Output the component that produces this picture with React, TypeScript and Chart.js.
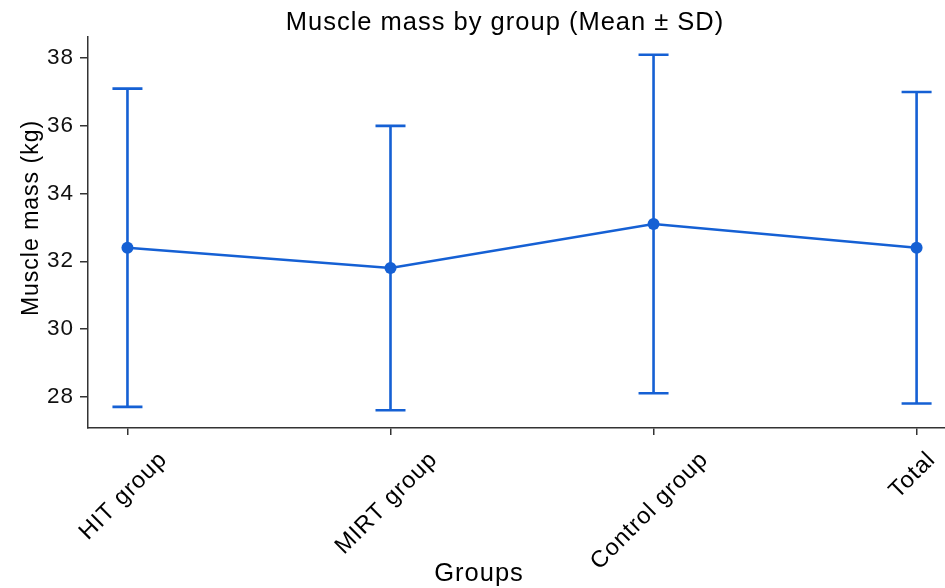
import { useEffect, useRef } from 'react';
import { Chart, registerables } from 'chart.js';

Chart.register(...registerables);

// ---- data ----
const categories = ['HIT group', 'MIRT group', 'Control group', 'Total'];
const means = [32.4, 31.8, 33.1, 32.4];
const sds = [4.7, 4.2, 5.0, 4.6];
const yTicks = [28, 30, 32, 34, 36, 38];
const titleText = 'Muscle mass by group (Mean ± SD)';
const xTitle = 'Groups';
const yTitle = 'Muscle mass (kg)';

// ---- style ----
const BLUE = '#1560d4';
const AXIS = '#333333';
const TEXT = '#000000';
const FONT = "'Liberation Sans', Arial, sans-serif";
const SPACING = '1px';

const lows = means.map((m, i) => m - sds[i]);
const highs = means.map((m, i) => m + sds[i]);
const dataMin = Math.min(...lows);
const dataMax = Math.max(...highs);
const span = dataMax - dataMin;
const yMin = dataMin - 0.05 * span;
const yMax = dataMax + 0.05 * span;

const errorBarPlugin = {
  id: 'errorBars',
  beforeDatasetsDraw(chart: any) {
    const { ctx, scales } = chart;
    const x = scales.x;
    const y = scales.y;
    ctx.save();
    ctx.strokeStyle = BLUE;
    ctx.lineWidth = 2.6;
    ctx.lineCap = 'butt';
    means.forEach((_, i) => {
      const px = x.getPixelForValue(i);
      const top = y.getPixelForValue(highs[i]);
      const bot = y.getPixelForValue(lows[i]);
      ctx.beginPath();
      ctx.moveTo(px, top);
      ctx.lineTo(px, bot);
      ctx.moveTo(px - 15, top);
      ctx.lineTo(px + 15, top);
      ctx.moveTo(px - 15, bot);
      ctx.lineTo(px + 15, bot);
      ctx.stroke();
    });
    ctx.restore();
  },
};

const textPlugin = {
  id: 'texts',
  beforeDraw(chart: any) {
    chart.ctx.letterSpacing = SPACING;
  },
  afterDraw(chart: any) {
    const { ctx, scales } = chart;
    const x = scales.x;
    ctx.save();
    ctx.letterSpacing = SPACING;
    ctx.fillStyle = TEXT;

    // title
    ctx.font = `25.5px ${FONT}`;
    ctx.textAlign = 'center';
    ctx.textBaseline = 'alphabetic';
    ctx.fillText(titleText, 505, 30);

    // x title
    ctx.font = `25.5px ${FONT}`;
    ctx.fillText(xTitle, 479, 581);

    // y title
    ctx.save();
    ctx.font = `23px ${FONT}`;
    ctx.translate(38, 218);
    ctx.rotate(-Math.PI / 2);
    ctx.textAlign = 'center';
    ctx.textBaseline = 'alphabetic';
    ctx.fillText(yTitle, 0, 0);
    ctx.restore();

    // x tick labels, rotated 45°, bounding box centred under each tick
    ctx.font = `23.5px ${FONT}`;
    categories.forEach((label, i) => {
      const px = x.getPixelForValue(i);
      const L = ctx.measureText(label).width;
      const ax = px - 4 + 0.354 * L;
      const ay = 456;
      ctx.save();
      ctx.translate(ax, ay);
      ctx.rotate(-Math.PI / 4);
      ctx.textAlign = 'right';
      ctx.textBaseline = 'middle';
      ctx.fillText(label, 0, 0);
      ctx.restore();
    });
    ctx.restore();
  },
};

export default function App() {
  const ref = useRef<HTMLCanvasElement>(null);

  useEffect(() => {
    const canvas = ref.current;
    if (!canvas) return;
    const chart = new Chart(canvas, {
      type: 'line',
      data: {
        datasets: [
          {
            data: means.map((m, i) => ({ x: i, y: m })),
            borderColor: BLUE,
            backgroundColor: BLUE,
            borderWidth: 2.6,
            pointRadius: 6,
            pointBorderWidth: 0,
            pointBackgroundColor: BLUE,
            tension: 0,
          },
        ],
      },
      options: {
        animation: false,
        responsive: false,
        devicePixelRatio: 1,
        layout: { autoPadding: false, padding: { top: 37, left: 0, right: 0, bottom: 0 } },
        plugins: {
          legend: { display: false },
          tooltip: { enabled: false },
          title: { display: false },
        },
        scales: {
          x: {
            type: 'linear',
            min: -0.15,
            max: 3.108,
            afterBuildTicks: (s: any) => {
              s.ticks = categories.map((_, i) => ({ value: i }));
            },
            afterFit: (s: any) => {
              s.height = 160;
            },
            ticks: { display: false },
            grid: {
              display: true,
              drawOnChartArea: false,
              drawTicks: true,
              tickLength: 7,
              tickColor: AXIS,
              lineWidth: 1.5,
            },
            border: { display: true, color: AXIS, width: 1.5 },
          },
          y: {
            type: 'linear',
            min: yMin,
            max: yMax,
            afterBuildTicks: (s: any) => {
              s.ticks = yTicks.map((v) => ({ value: v }));
            },
            afterFit: (s: any) => {
              s.width = 88;
            },
            ticks: {
              font: { family: FONT, size: 22.5 },
              color: '#111111',
              padding: 6,
            },
            grid: {
              display: true,
              drawOnChartArea: false,
              drawTicks: true,
              tickLength: 8,
              tickColor: AXIS,
              lineWidth: 1.5,
            },
            border: { display: true, color: AXIS, width: 1.5 },
          },
        },
      },
      plugins: [errorBarPlugin, textPlugin],
    } as any);
    return () => chart.destroy();
  }, []);

  return (
    <div
      style={{
        position: 'fixed',
        left: 0,
        top: 0,
        width: 945,
        height: 588,
        background: '#ffffff',
        overflow: 'hidden',
      }}
    >
      <canvas ref={ref} width={945} height={588} style={{ display: 'block' }} />
    </div>
  );
}
